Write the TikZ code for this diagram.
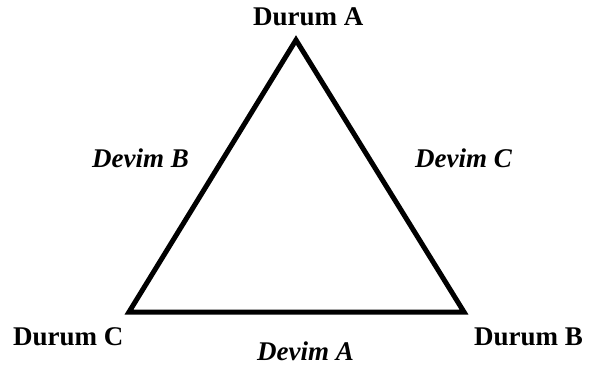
\documentclass[tikz,border=0pt]{standalone}
\usepackage{fontspec}
\setmainfont{Liberation Serif}
\begin{document}
\begin{tikzpicture}[x=1pt,y=-1pt,
  lbl/.style={inner sep=0pt,font=\fontsize{27}{31}\selectfont\bfseries},
  ilbl/.style={inner sep=0pt,font=\fontsize{27}{31}\selectfont\bfseries\itshape},
  edge/.style={line width=5pt,line join=miter}]
\useasboundingbox (0,0) rectangle (590,367);
\coordinate (A) at (296,40);
\coordinate (C) at (129,312);
\coordinate (B) at (464,312);
\draw[edge] (A) -- (B) -- (C) -- cycle;
\node[lbl,anchor=base west] (la) at (253,25) {Durum A};
\node[lbl,anchor=base west] (lc) at (13,345) {Durum C};
\node[lbl,anchor=base west] (lb) at (474,345) {Durum B};
\node[ilbl,anchor=base west] (db) at (92,167) {Devim B};
\node[ilbl,anchor=base west] (dc) at (415,167) {Devim C};
\node[ilbl,anchor=base west] (da) at (257,360) {Devim A};
\end{tikzpicture}
\end{document}
